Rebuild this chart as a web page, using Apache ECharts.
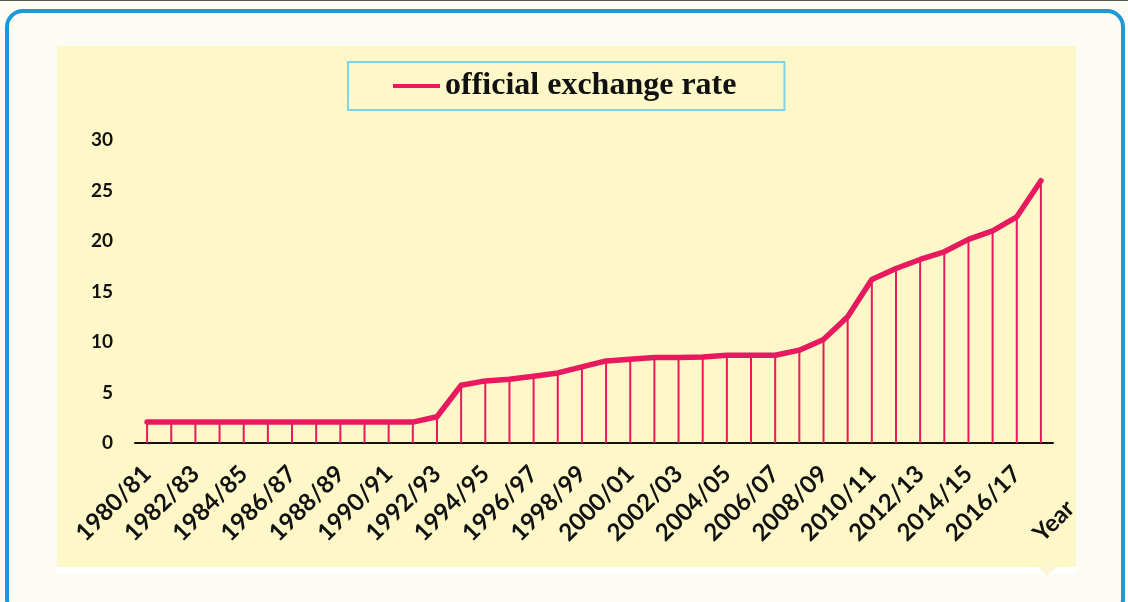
<!DOCTYPE html>
<html>
<head>
<meta charset="utf-8">
<script src="https://cdn.jsdelivr.net/npm/echarts@6/dist/echarts.min.js"></script>
<style>
  html, body { margin: 0; padding: 0; background: #fcfcf4; }
  #chart { width: 1128px; height: 602px; }
</style>
</head>
<body>
<div id="chart"></div>
<script>
  // fiscal years shown on the x axis
  var years = [
    '1980/81', '1981/82', '1982/83', '1983/84', '1984/85', '1985/86', '1986/87', '1987/88',
    '1988/89', '1989/90', '1990/91', '1991/92', '1992/93', '1993/94', '1994/95', '1995/96',
    '1996/97', '1997/98', '1998/99', '1999/00', '2000/01', '2001/02', '2002/03', '2003/04',
    '2004/05', '2005/06', '2006/07', '2007/08', '2008/09', '2009/10', '2010/11', '2011/12',
    '2012/13', '2013/14', '2014/15', '2015/16', '2016/17', '2017/18'
  ];
  // official exchange rate
  var rate = [
    2.07, 2.07, 2.07, 2.07, 2.07, 2.07, 2.07, 2.07,
    2.07, 2.07, 2.07, 2.07, 2.6, 5.72, 6.15, 6.31,
    6.61, 6.94, 7.53, 8.13, 8.30, 8.46, 8.46, 8.52,
    8.69, 8.69, 8.69, 9.19, 10.25, 12.49, 16.19, 17.28,
    18.17, 18.93, 20.16, 21.01, 22.40, 25.97
  ];
  var yTicks = [0, 5, 10, 15, 20, 25, 30];

  var pink = '#e8195f';

  var myChart = echarts.init(document.getElementById('chart'));
  var option = {
    backgroundColor: '#fcfcf4',
    animation: false,
    graphic: [
      // dark strip along the top edge
      { type: 'rect', z: -20, shape: { x: 0, y: 0, width: 1128, height: 1 }, style: { fill: '#555' } },
      // rounded blue frame
      { type: 'rect', z: -20, shape: { x: 7, y: 11, width: 1116, height: 604, r: 16 },
        style: { fill: '#fcfcf4', stroke: '#1c9ad6', lineWidth: 4 } },
      // white strip under the panel
      { type: 'rect', z: -19, shape: { x: 57, y: 560, width: 1019, height: 14 }, style: { fill: '#ffffff' } },
      // yellow panel
      { type: 'rect', z: -18, shape: { x: 57, y: 46, width: 1019, height: 521 }, style: { fill: '#fef8c8' } },
      // little tail under the panel
      { type: 'polygon', z: -18, shape: { points: [[1037, 566], [1058, 566], [1047, 576]] },
        style: { fill: '#fbf6d8' } },
      // axis name, set slanted like the labels
      { type: 'text', z: 10, x: 1062, y: 496, rotation: Math.PI / 4,
        style: { text: 'Year', fill: '#111', font: 'bold 24px Lato', align: 'right', verticalAlign: 'top' } }
    ],
    legend: {
      data: ['official exchange rate'],
      left: 348,
      top: 62,
      padding: [8, 48, 8, 45],
      backgroundColor: '#fef8c8',
      borderColor: '#80d4ea',
      borderWidth: 2,
      borderRadius: 0,
      icon: 'rect',
      itemWidth: 47,
      itemHeight: 4,
      textStyle: {
        fontFamily: 'Liberation Serif',
        fontWeight: 'bold',
        fontSize: 32,
        color: '#111'
      }
    },
    grid: {
      left: 135,
      right: 75,
      top: 140,
      bottom: 159
    },
    xAxis: [{
      type: 'category',
      data: years,
      boundaryGap: true,
      axisLine: { lineStyle: { color: '#111', width: 2 } },
      axisTick: { show: false },
      splitLine: { show: false },
      axisLabel: {
        interval: 1,
        rotate: 45,
        margin: 27,
        fontFamily: 'Lato',
        fontWeight: 'bold',
        fontSize: 24,
        color: '#111'
      }
    }],
    yAxis: [{
      type: 'value',
      min: yTicks[0],
      max: yTicks[yTicks.length - 1],
      interval: yTicks[1] - yTicks[0],
      axisLine: { show: false },
      axisTick: { show: false },
      splitLine: { show: false },
      axisLabel: {
        margin: 22,
        fontFamily: 'Lato',
        fontWeight: 'bold',
        fontSize: 19,
        color: '#111'
      }
    }],
    series: [
      {
        // drop lines from every point down to the axis
        name: 'drop',
        type: 'bar',
        barWidth: 2,
        itemStyle: { color: pink },
        data: rate,
        silent: true
      },
      {
        name: 'official exchange rate',
        type: 'line',
        showSymbol: false,
        symbol: 'none',
        lineStyle: { color: pink, width: 5.5, join: 'round', cap: 'round' },
        itemStyle: { color: pink },
        data: rate,
        z: 3
      }
    ]
  };
  myChart.setOption(option, true);
</script>
</body>
</html>
